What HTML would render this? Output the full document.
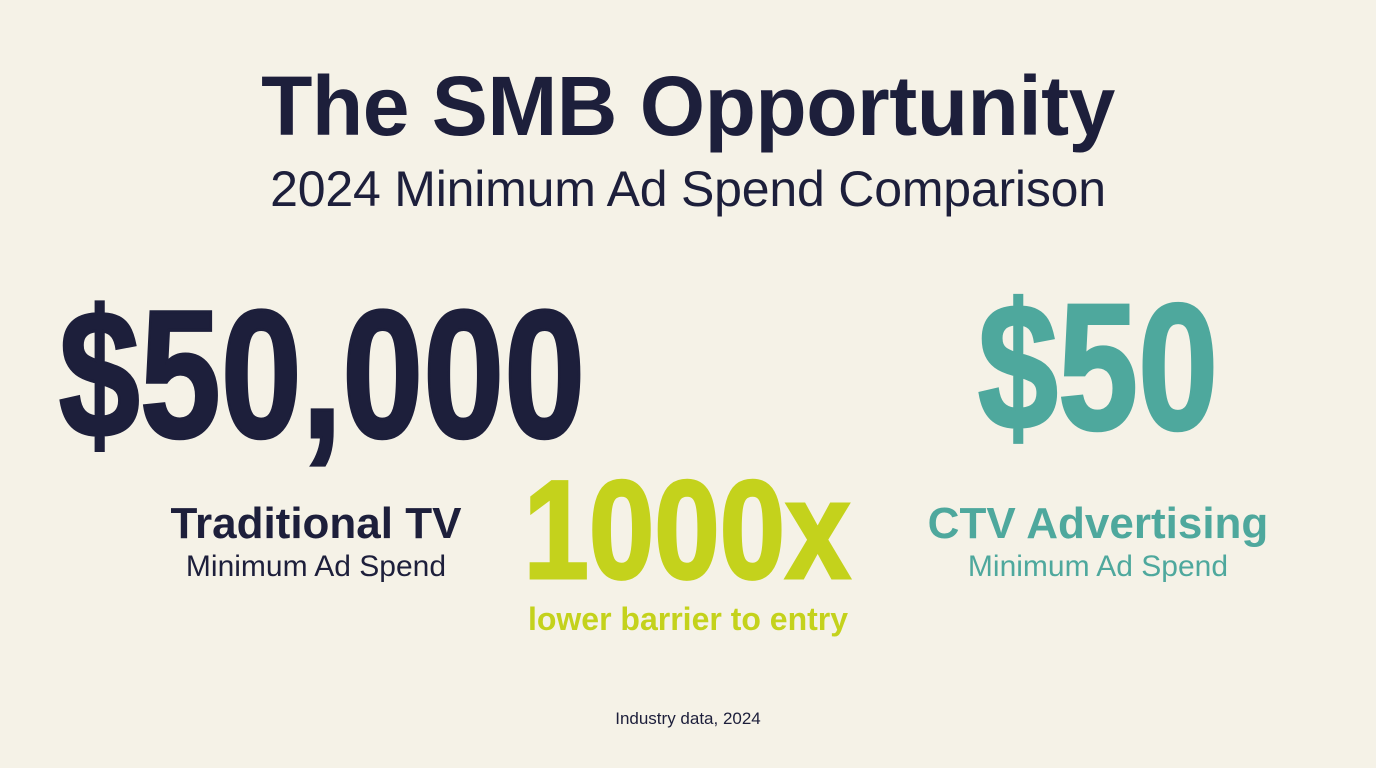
<!DOCTYPE html>
<html><head><meta charset="utf-8"><style>
html,body{margin:0;padding:0}
body{width:1376px;height:768px;background:#f5f2e7;position:relative;overflow:hidden;font-family:"Liberation Sans",sans-serif}
.t{position:absolute;left:0;width:1376px;text-align:center;line-height:1;white-space:nowrap}
.c{position:absolute;line-height:1;white-space:nowrap;text-align:center}
</style></head><body>
<div class="t" style="top:64px;font-size:84px;font-weight:700;color:#1d1f3b;letter-spacing:-0.5px">The SMB Opportunity</div>
<div class="t" style="top:164px;font-size:50px;color:#1d1f3b;letter-spacing:-0.2px">2024 Minimum Ad Spend Comparison</div>

<div class="c" style="left:-178px;width:1000px;top:283px;font-size:182px;font-weight:900;color:#1d1f3b;transform:scaleX(0.8);-webkit-text-stroke:3px #1d1f3b">$50,000</div>
<div class="c" style="left:598px;width:1000px;top:278px;font-size:180px;font-weight:700;color:#4ea89d;transform:scaleX(0.8);-webkit-text-stroke:3px #4ea89d">$50</div>
<div class="c" style="left:187px;width:1000px;top:460px;font-size:140px;font-weight:700;color:#c4d21c;transform:scaleX(0.84);-webkit-text-stroke:3px #c4d21c">1000x</div>

<div class="c" style="left:116px;width:400px;top:502px;font-size:44px;font-weight:700;color:#1d1f3b">Traditional TV</div>
<div class="c" style="left:116px;width:400px;top:552px;font-size:30px;color:#1d1f3b">Minimum Ad Spend</div>
<div class="c" style="left:898px;width:400px;top:502px;font-size:44px;font-weight:700;color:#4ea89d">CTV Advertising</div>
<div class="c" style="left:898px;width:400px;top:552px;font-size:30px;color:#4ea89d">Minimum Ad Spend</div>
<div class="c" style="left:438px;width:500px;top:603px;font-size:32px;font-weight:700;color:#c4d21c">lower barrier to entry</div>

<div class="t" style="top:710px;font-size:17px;color:#1d1f3b">Industry data, 2024</div>
</body></html>
